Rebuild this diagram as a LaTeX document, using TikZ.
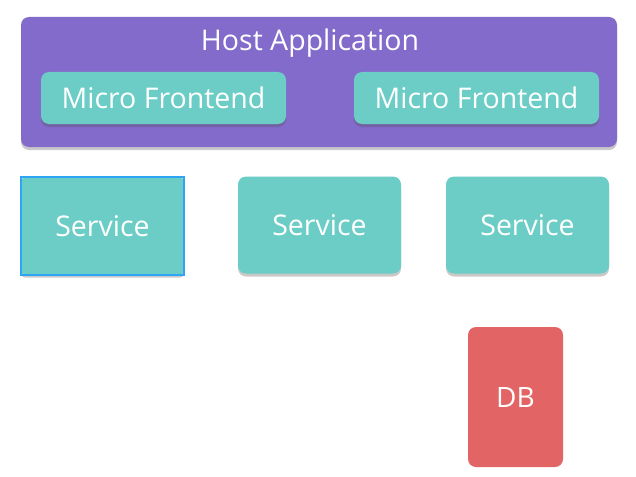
\documentclass[tikz,border=0pt]{standalone}
\usepackage{fontspec}
\setmainfont{Open Sans}
\usepackage{tikz}
\usetikzlibrary{shadows}

\definecolor{hostpurple}{HTML}{836BCB}
\definecolor{mfeteal}{HTML}{6BCDC6}
\definecolor{dbred}{HTML}{E26464}
\definecolor{selblue}{HTML}{2EA4F5}

\tikzset{
  box/.style={rounded corners=8pt, inner sep=0pt, text=white,
    font=\fontsize{28.5}{32}\selectfont},
  shade/.style={drop shadow={shadow xshift=0pt, shadow yshift=-3pt, opacity=0.3, fill=black!70}},
  hostbox/.style={box, fill=hostpurple, shade, minimum width=596pt, minimum height=130pt},
  mfebox/.style={box, fill=mfeteal, shade, minimum width=245pt, minimum height=52pt},
  svcbox/.style={box, fill=mfeteal, shade, minimum width=163pt, minimum height=97pt},
  dbbox/.style={box, fill=dbred, minimum width=95pt, minimum height=140pt,
    font=\fontsize{28}{32}\selectfont},
  selframe/.style={draw=selblue, line width=1.8pt}
}

\begin{document}
\begin{tikzpicture}[x=1pt,y=-1pt]
    \useasboundingbox (0,0) rectangle (636,476);

    % host with its two frontends
    \node[hostbox] (host) at (319,82) {};
    \node[text=white, font=\fontsize{28.5}{32}\selectfont] (hosttitle) at (310,43) {Host Application};
    \node[mfebox] (mfeleft) at (163.5,98) {\raisebox{-2pt}{Micro Frontend}};
    \node[mfebox] (mferight) at (476.5,98) {\raisebox{-2pt}{Micro Frontend}};

    % services
    \node[svcbox, rounded corners=4pt] (svcleft) at (102.5,226) {\raisebox{-1pt}{Service}};
    \draw[selframe] (svcleft.north west) rectangle (svcleft.south east);
    \node[svcbox] (svcmid) at (319.5,225) {Service};
    \node[svcbox] (svcright) at (527.5,225) {Service};

    \node[dbbox] (db) at (515.5,397) {DB};
\end{tikzpicture}
\end{document}
